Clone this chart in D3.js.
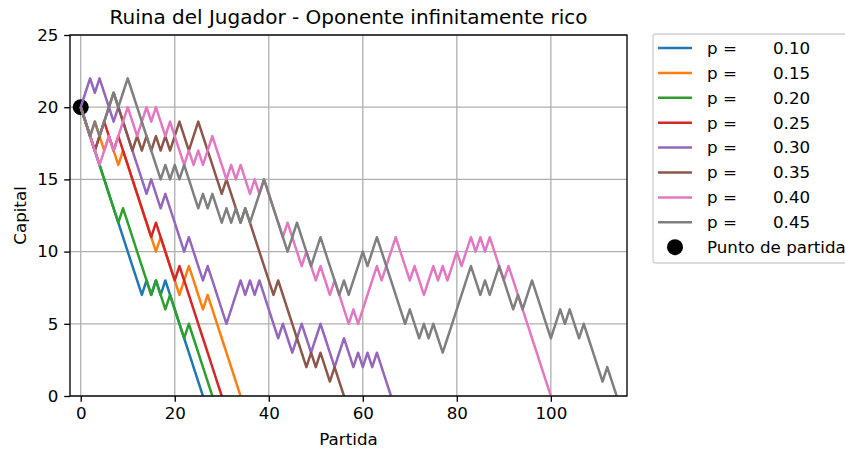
<!DOCTYPE html>
<html>
<head>
<meta charset="utf-8">
<script src="https://cdn.jsdelivr.net/npm/d3@7"></script>
<style>
  html, body { margin: 0; padding: 0; background: #ffffff; }
  svg { display: block; font-family: "DejaVu Sans", sans-serif; }
</style>
</head>
<body>
<svg id="chart" width="845" height="451"></svg>
<script>
// ---------------- data ----------------
const probabilities = [0.10, 0.15, 0.20, 0.25, 0.30, 0.35, 0.40, 0.45];
const capitalP010 = [20,19,18,17,16,15,14,13,12,11,10,9,8,7,8,7,8,7,8,7,6,5,4,3,2,1,0];
const capitalP015 = [20,19,18,19,18,17,18,17,16,17,16,15,14,13,12,11,10,11,10,9,8,7,8,9,8,7,6,7,6,5,4,3,2,1,0];
const capitalP020 = [20,19,18,17,16,15,14,13,12,13,12,11,10,9,8,7,8,7,6,7,6,5,4,5,4,3,2,1,0];
const capitalP025 = [20,19,18,17,18,19,18,17,18,17,16,15,14,13,12,11,12,11,10,9,8,9,8,7,6,5,4,3,2,1,0];
const capitalP030 = [20,21,22,21,22,21,20,19,20,19, 18,17,16,15,14,15,14,13,14,13,
                     12,11,10,11,10,9,8,9,8,7, 6,5,6,7,8,7,8,7,8,7,
                     6,5,4,5,4,3,4,5,4,3, 4,5,4,3,2,3,4,3,2,3, 2,3,2,3,2,1,0];
const capitalP035 = [20,19,18,17,18,19,20,21,20,19, 18,17,18,17,18,17,18,17,18,17,
                     18,19,18,17,18,19,18,17,16,15, 14,15,14,13,12,13,12,11,10,9,
                     8,7,8,7,6,5,4,3,2,3, 2,3,2,1,2,1,0];
const capitalP040 = [20,19,18,17,16,17,18,17,18,19, 20,19,18,19,20,19,20,19,18,19,
                     18,17,16,17,16,17,16,17,18,17, 16,15,16,15,16,15,14,15,14,15,
                     14,13,12,11,12,11,10,9,10,9, 8,9,8,7,8,7,6,5,6,5,
                     6,7,8,9,8,9,10,11,10,9, 8,9,8,7,8,9,8,9,8,9,
                     10,9,10,11,10,11,10,11,10,9, 8,9,8,7,6,5,4,3,2,1, 0];
const capitalP045 = [20,19,18,19,18,19,20,21,20,21, 22,21,20,19,18,17,16,15,16,15,
                     16,15,16,15,14,13,14,13,14,13, 12,13,12,13,12,13,12,13,14,15,
                     14,13,12,11,10,11,12,11,10,9, 10,11,10,9,8,7,8,7,8,9,
                     10,9,10,11,10,9,8,7,6,5, 6,5,4,5,4,5,4,3,4,5,
                     6,7,8,9,8,7,8,7,8,9, 8,7,6,7,6,7,8,7,6,5,
                     4,5,6,5,6,5,4,5,4,3, 2,1,2,1,0];
const seriesValues = [capitalP010, capitalP015, capitalP020, capitalP025,
                      capitalP030, capitalP035, capitalP040, capitalP045];
const seriesColors = ["#1f77b4","#ff7f0e","#2ca02c","#d62728","#9467bd","#8c564b","#e377c2","#7f7f7f"];
const startPoint = [0, 20];
const xTicks = [0, 20, 40, 60, 80, 100];
const yTicks = [0, 5, 10, 15, 20, 25];
const titleText = "Ruina del Jugador - Oponente infinitamente rico";
const xLabel = "Partida";
const yLabel = "Capital";
const startLabel = "Punto de partida";

// ---------------- layout ----------------
const svg = d3.select("#chart");
const L = 70, R = 627, T = 35, B = 396;
const fs = 16.7;
const x = d3.scaleLinear().domain([-2.28, 116.2]).range([L, R]);
const y = d3.scaleLinear().domain([0, 25]).range([B, T]);

svg.append("defs").append("clipPath").attr("id", "clip")
  .append("rect").attr("x", L).attr("y", T).attr("width", R - L).attr("height", B - T);

// grid
const grid = svg.append("g");
grid.selectAll("line.gx").data(xTicks).join("line")
  .attr("x1", d => x(d)).attr("x2", d => x(d)).attr("y1", T).attr("y2", B)
  .attr("stroke", "#b0b0b0").attr("stroke-width", 1.33);
grid.selectAll("line.gy").data(yTicks).join("line")
  .attr("x1", L).attr("x2", R).attr("y1", d => y(d)).attr("y2", d => y(d))
  .attr("stroke", "#b0b0b0").attr("stroke-width", 1.33);

// start point (under lines)
const plot = svg.append("g").attr("clip-path", "url(#clip)");
plot.append("circle").attr("cx", x(startPoint[0])).attr("cy", y(startPoint[1]))
  .attr("r", 8).attr("fill", "#000");

// lines
const line = d3.line().x((d, i) => x(i)).y(d => y(d));
seriesValues.forEach((vals, k) => {
  plot.append("path").datum(vals).attr("d", line)
    .attr("fill", "none").attr("stroke", seriesColors[k])
    .attr("stroke-width", 2.5).attr("stroke-linejoin", "round").attr("stroke-linecap", "butt");
});

// axes
const xAxis = d3.axisBottom(x).tickValues(xTicks).tickSize(5.8).tickPadding(5.8).tickFormat(d3.format("d"));
const yAxis = d3.axisLeft(y).tickValues(yTicks).tickSize(5.8).tickPadding(5.8).tickFormat(d3.format("d"));
const gx = svg.append("g").attr("transform", `translate(0,${B})`).call(xAxis);
const gy = svg.append("g").attr("transform", `translate(${L},0)`).call(yAxis);
[gx, gy].forEach(g => {
  g.select(".domain").remove();
  g.selectAll(".tick line").attr("stroke", "#000").attr("stroke-width", 1.33);
  g.selectAll(".tick text").attr("fill", "#000").style("font-size", fs + "px")
    .style("font-family", "DejaVu Sans");
});

// spines
svg.append("rect").attr("x", L).attr("y", T).attr("width", R - L).attr("height", B - T)
  .attr("fill", "none").attr("stroke", "#000").attr("stroke-width", 1.33);

// title and labels
svg.append("text").attr("x", (L + R) / 2).attr("y", 24).attr("text-anchor", "middle")
  .style("font-size", "20px").text(titleText);
svg.append("text").attr("x", (L + R) / 2).attr("y", 445).attr("text-anchor", "middle")
  .style("font-size", fs + "px").text(xLabel);
svg.append("text").attr("transform", `translate(26,${(T + B) / 2}) rotate(-90)`)
  .attr("text-anchor", "middle").style("font-size", fs + "px").text(yLabel);

// legend
const lg = svg.append("g");
lg.append("rect").attr("x", 653).attr("y", 34).attr("width", 260).attr("height", 229)
  .attr("rx", 3).attr("fill", "#fff").attr("fill-opacity", 0.8)
  .attr("stroke", "#d0d0d0").attr("stroke-width", 1.33);
const rowY = i => 48 + i * 24.9;
probabilities.forEach((p, i) => {
  lg.append("line").attr("x1", 658).attr("x2", 692).attr("y1", rowY(i)).attr("y2", rowY(i))
    .attr("stroke", seriesColors[i]).attr("stroke-width", 2.5);
  lg.append("text").attr("x", 707).attr("y", rowY(i)).attr("dy", "0.35em")
    .style("font-size", fs + "px").text("p =");
  lg.append("text").attr("x", 773).attr("y", rowY(i)).attr("dy", "0.35em")
    .style("font-size", fs + "px").text(p.toFixed(2));
});
lg.append("circle").attr("cx", 675).attr("cy", rowY(8)).attr("r", 8).attr("fill", "#000");
lg.append("text").attr("x", 707).attr("y", rowY(8)).attr("dy", "0.35em")
  .style("font-size", fs + "px").text(startLabel);
</script>
</body>
</html>
